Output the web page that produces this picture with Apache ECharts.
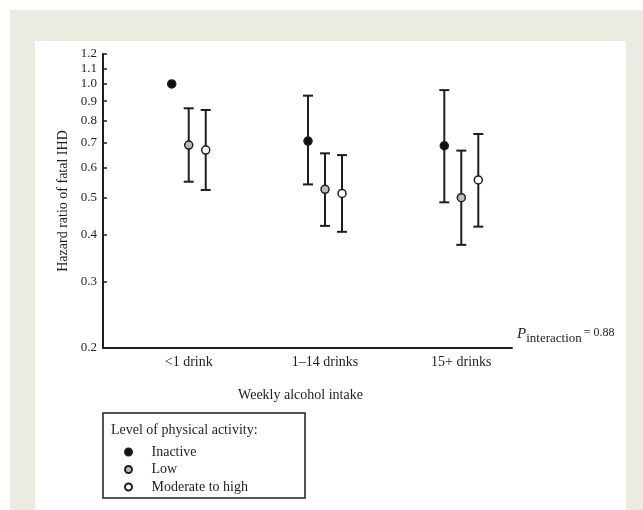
<!DOCTYPE html>
<html><head><meta charset="utf-8">
<script src="https://cdn.jsdelivr.net/npm/echarts@6/dist/echarts.min.js"></script>
<style>html,body{margin:0;padding:0;background:#fff}#c{width:643px;height:510px}</style>
</head><body><div id="c"></div>
<script>
const categories = ['<1 drink', '1\u201314 drinks', '15+ drinks'];
const levels = ['Inactive', 'Low', 'Moderate to high'];
// hazard ratios and 95% CI per level, one value per category
const inactiveHR = [1.0, 0.706, 0.686];
const inactiveLo = [null, 0.542, 0.486];
const inactiveHi = [null, 0.931, 0.963];
const lowHR = [0.689, 0.526, 0.500];
const lowLo = [0.551, 0.421, 0.375];
const lowHi = [0.862, 0.655, 0.666];
const modHR = [0.668, 0.513, 0.557];
const modLo = [0.524, 0.406, 0.419];
const modHi = [0.853, 0.648, 0.737];
const yTicks = [0.2, 0.3, 0.4, 0.5, 0.6, 0.7, 0.8, 0.9, 1.0, 1.1, 1.2];

const serif = '"Liberation Serif","DejaVu Serif",serif';
const ink = '#1e1e1e';
const fills = ['#111111', '#bdbdbd', '#ffffff'];
const offsets = [-17, 0, 17];
const seriesVals = [[inactiveHR, inactiveLo, inactiveHi], [lowHR, lowLo, lowHi], [modHR, modLo, modHi]];

function build(vals) {
  return categories.map((c, i) => [i + 1, vals[0][i], vals[1][i], vals[2][i]]);
}

function makeRender(si) {
  return function (params, api) {
    const x = api.value(0), hr = api.value(1), lo = api.value(2), hi = api.value(3);
    const p = api.coord([x, hr]);
    const cx = p[0] + offsets[si];
    const children = [];
    if (lo && hi && !isNaN(lo) && !isNaN(hi)) {
      const yl = api.coord([x, lo])[1], yh = api.coord([x, hi])[1];
      const ls = { stroke: ink, lineWidth: 2 };
      children.push({ type: 'line', shape: { x1: cx, y1: yl, x2: cx, y2: yh }, style: ls });
      children.push({ type: 'line', shape: { x1: cx - 5, y1: yl, x2: cx + 5, y2: yl }, style: ls });
      children.push({ type: 'line', shape: { x1: cx - 5, y1: yh, x2: cx + 5, y2: yh }, style: ls });
    }
    children.push({ type: 'circle', shape: { cx: cx, cy: p[1], r: 4 }, style: { fill: fills[si], stroke: ink, lineWidth: 1.5 } });
    return { type: 'group', children: children };
  };
}

const chart = echarts.init(document.getElementById('c'), null, { renderer: 'canvas' });
const series = levels.map((name, si) => ({
  type: 'custom',
  name: name,
  renderItem: makeRender(si),
  itemStyle: { color: fills[si], borderColor: ink, borderWidth: 1.8 },
  encode: { x: 0, y: 1 },
  data: build(seriesVals[si]),
  z: 5
}));

chart.setOption({
  animation: false,
  backgroundColor: '#ffffff',
  graphic: [
    { type: 'rect', z: -10, shape: { x: 10, y: 10, width: 633, height: 500 }, style: { fill: '#ecebe1' } },
    { type: 'rect', z: -9, shape: { x: 35, y: 41, width: 591, height: 469 }, style: { fill: '#ffffff' } },
    { type: 'rect', z: 1, shape: { x: 103, y: 413, width: 202, height: 85 }, style: { fill: 'none', stroke: ink, lineWidth: 1.5 } },
    { type: 'text', z: 2, left: 111, top: 423, style: { text: 'Level of physical activity:', font: '14px ' + serif, fill: ink } },
    { type: 'text', z: 2, left: 517, top: 327, style: {
      text: '{p|P}{s|interaction}{e|= 0.88}',
      rich: {
        p: { font: 'italic 15px ' + serif, fill: ink },
        s: { font: '13px ' + serif, fill: ink, padding: [9, 0, 0, 0] },
        e: { font: '12px ' + serif, fill: ink, padding: [0, 0, 3, 2] }
      }
    } }
  ],
  legend: {
    orient: 'vertical',
    left: 119,
    top: 440,
    icon: 'circle',
    itemWidth: 36,
    itemHeight: 7,
    itemGap: 3.5,
    data: levels,
    textStyle: { fontFamily: serif, fontSize: 14, color: ink, lineHeight: 14 },
    selectedMode: false
  },
  grid: { left: 103, top: 54, right: 131, bottom: 162, containLabel: false },
  xAxis: {
    type: 'value',
    min: 0.371,
    max: 3.372,
    name: 'Weekly alcohol intake',
    nameLocation: 'middle',
    nameGap: 40,
    nameTextStyle: { fontFamily: serif, fontSize: 14, color: ink, padding: [0, 14, 0, 0] },
    axisLine: { show: true, onZero: false, lineStyle: { color: ink, width: 2 } },
    axisTick: { show: false },
    splitLine: { show: false },
    axisLabel: {
      customValues: [1, 2, 3],
      formatter: v => categories[Math.round(v) - 1] || '',
      fontFamily: serif, fontSize: 14, color: ink, margin: 7
    }
  },
  yAxis: {
    type: 'log',
    logBase: 10,
    min: 0.2,
    max: 1.2,
    name: 'Hazard ratio of fatal IHD',
    nameLocation: 'middle',
    nameGap: 33,
    nameTextStyle: { fontFamily: serif, fontSize: 14, color: ink },
    axisLine: { show: true, lineStyle: { color: ink, width: 2 } },
    axisTick: { show: true, inside: true, length: 4, customValues: yTicks, lineStyle: { color: ink, width: 1.5 } },
    minorTick: { show: false },
    splitLine: { show: false },
    axisLabel: {
      customValues: yTicks,
      formatter: v => Number(v).toFixed(1),
      fontFamily: serif, fontSize: 13, color: ink, margin: 6
    }
  },
  series: series
});
</script></body></html>
